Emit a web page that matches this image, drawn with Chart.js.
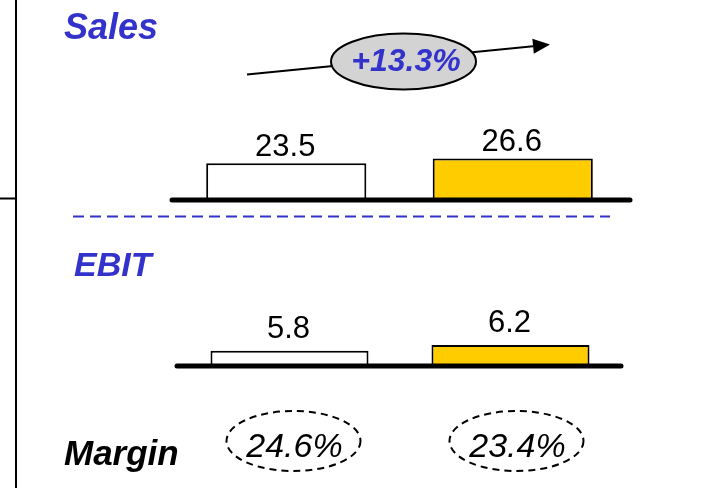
<!DOCTYPE html>
<html>
<head>
<meta charset="utf-8">
<script src="https://cdn.jsdelivr.net/npm/chart.js@4/dist/chart.umd.min.js"></script>
<style>
  html, body { margin: 0; padding: 0; background: #ffffff; }
  #wrap { position: relative; width: 702px; height: 488px; overflow: hidden; }
  #wrap canvas { position: absolute; left: 0; top: 0; }
</style>
</head>
<body>
<div id="wrap">
  <canvas id="salesChart" width="702" height="488"></canvas>
  <canvas id="ebitChart" width="702" height="488"></canvas>
</div>
<script>
// Two periods, compared side by side
const periods = ['Prior year', 'Current year'];
const salesValues = [23.5, 26.6];
const ebitValues = [5.8, 6.2];
const marginValues = [24.6, 23.4];
const salesGrowth = 13.3;
const barColors = ['#ffffff', '#ffcc00'];

const FONT = '"Liberation Sans", Arial, Helvetica, sans-serif';
const BLUE = '#3333cc';

// Thick baseline under the bars plus the value written above each bar
const barDecor = {
  id: 'barDecor',
  afterDatasetsDraw(chart, args, opts) {
    const { ctx, chartArea } = chart;
    const yScale = chart.scales.y;
    const y0 = yScale.getPixelForValue(yScale.min);
    ctx.save();
    ctx.strokeStyle = '#000';
    ctx.lineWidth = 5;
    ctx.lineCap = 'round';
    ctx.beginPath();
    ctx.moveTo(chartArea.left - opts.extendLeft, y0);
    ctx.lineTo(chartArea.right + opts.extendRight, y0);
    ctx.stroke();

    const ds = chart.data.datasets[0];
    ctx.fillStyle = '#000';
    ctx.font = '31px ' + FONT;
    ctx.textAlign = 'center';
    ctx.textBaseline = 'alphabetic';
    chart.getDatasetMeta(0).data.forEach((bar, i) => {
      ctx.fillText(ds.data[i].toFixed(1), bar.x - 1, bar.y - opts.gap);
    });
    ctx.restore();
  }
};

function ellipse(ctx, cx, cy, rx, ry) {
  ctx.beginPath();
  ctx.ellipse(cx, cy, rx, ry, 0, 0, Math.PI * 2);
}

// Frame line, section title, growth arrow and divider
const salesDecor = {
  id: 'salesDecor',
  afterDraw(chart) {
    const ctx = chart.ctx;
    ctx.save();
    // left frame
    ctx.strokeStyle = '#000';
    ctx.lineWidth = 2;
    ctx.beginPath();
    ctx.moveTo(16, 0); ctx.lineTo(16, 488);
    ctx.moveTo(0, 198.5); ctx.lineTo(16, 198.5);
    ctx.stroke();

    // title
    ctx.fillStyle = BLUE;
    ctx.font = 'italic bold 36px ' + FONT;
    ctx.textAlign = 'left';
    ctx.textBaseline = 'alphabetic';
    ctx.fillText('Sales', 64, 39);

    // growth arrow
    const x1 = 247, y1 = 74.5, x2 = 550, y2 = 44.5;
    const ang = Math.atan2(y2 - y1, x2 - x1);
    const hl = 17, hw = 7.5;
    const bx = x2 - hl * Math.cos(ang), by = y2 - hl * Math.sin(ang);
    ctx.strokeStyle = '#000';
    ctx.lineWidth = 2;
    ctx.beginPath();
    ctx.moveTo(x1, y1); ctx.lineTo(bx, by);
    ctx.stroke();
    ctx.fillStyle = '#000';
    ctx.beginPath();
    ctx.moveTo(x2, y2);
    ctx.lineTo(bx + hw * Math.sin(ang), by - hw * Math.cos(ang));
    ctx.lineTo(bx - hw * Math.sin(ang), by + hw * Math.cos(ang));
    ctx.closePath();
    ctx.fill();

    // growth bubble
    ellipse(ctx, 403.5, 61.5, 72.5, 28);
    ctx.fillStyle = '#d3d3d3';
    ctx.fill();
    ctx.lineWidth = 2;
    ctx.stroke();
    ctx.fillStyle = BLUE;
    ctx.font = 'italic bold 32px ' + FONT;
    ctx.textAlign = 'center';
    ctx.fillText('+' + salesGrowth.toFixed(1) + '%', 406, 71);

    // divider between the two panels
    ctx.strokeStyle = BLUE;
    ctx.lineWidth = 2;
    ctx.setLineDash([11, 6]);
    ctx.beginPath();
    ctx.moveTo(73, 216.5); ctx.lineTo(610, 216.5);
    ctx.stroke();
    ctx.restore();
  }
};

// EBIT title and the margin bubbles under each bar
const ebitDecor = {
  id: 'ebitDecor',
  afterDraw(chart) {
    const ctx = chart.ctx;
    ctx.save();
    ctx.fillStyle = BLUE;
    ctx.font = 'italic bold 34px ' + FONT;
    ctx.textAlign = 'left';
    ctx.textBaseline = 'alphabetic';
    ctx.fillText('EBIT', 74, 276);

    ctx.fillStyle = '#000';
    ctx.font = 'italic bold 35px ' + FONT;
    ctx.fillText('Margin', 64, 465);

    const bars = chart.getDatasetMeta(0).data;
    ctx.strokeStyle = '#000';
    ctx.lineWidth = 2;
    ctx.setLineDash([7, 5]);
    ctx.font = 'italic 34px ' + FONT;
    ctx.textAlign = 'center';
    bars.forEach((bar, i) => {
      const cx = bar.x + 4 + i * 2;
      ellipse(ctx, cx, 441, 67, 30);
      ctx.stroke();
      ctx.fillText(marginValues[i].toFixed(1) + '%', cx + 1, 457);
    });
    ctx.restore();
  }
};

function barChart(id, values, yMin, yMax, pad, barPct, gap, ext, extra) {
  return new Chart(document.getElementById(id), {
    type: 'bar',
    data: {
      labels: periods,
      datasets: [{
        data: values,
        backgroundColor: barColors,
        borderColor: '#000',
        borderWidth: 2,
        borderSkipped: 'bottom',
        categoryPercentage: 1,
        barPercentage: barPct
      }]
    },
    options: {
      responsive: false,
      animation: false,
      devicePixelRatio: 1,
      layout: { padding: pad },
      plugins: {
        legend: { display: false },
        tooltip: { enabled: false },
        barDecor: { gap: gap, extendLeft: ext[0], extendRight: ext[1] }
      },
      scales: {
        x: { display: false },
        y: { display: false, min: yMin, max: yMax }
      }
    },
    plugins: [barDecor, extra]
  });
}

barChart('salesChart', salesValues, 0, 64,
  { left: 173, right: 76, top: 100, bottom: 288 }, 0.707, 7, [1, 4], salesDecor);
barChart('ebitChart', ebitValues, 4.7, 9.0,
  { left: 179, right: 81, top: 306, bottom: 122 }, 0.715, 13, [2, 0], ebitDecor);
</script>
</body>
</html>
